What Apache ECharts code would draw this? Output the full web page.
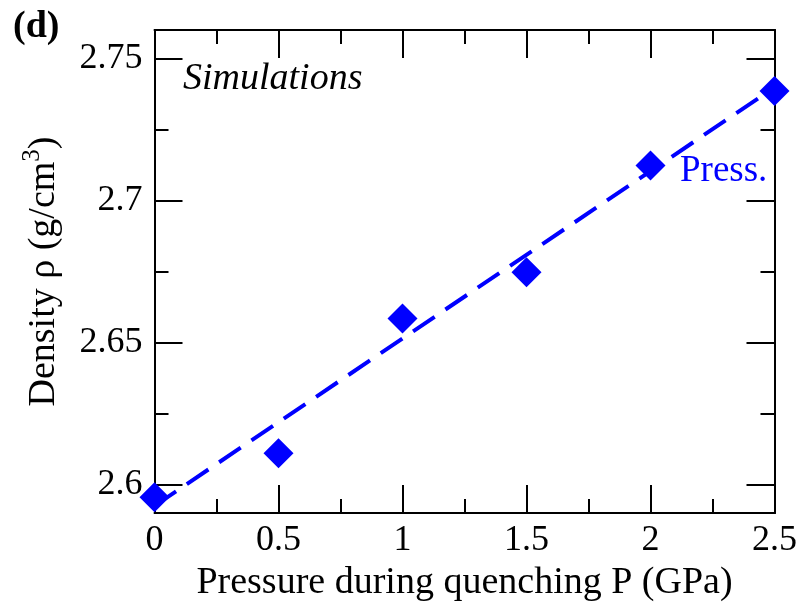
<!DOCTYPE html>
<html><head><meta charset="utf-8">
<script src="https://cdn.jsdelivr.net/npm/echarts@6/dist/echarts.min.js"></script>
<style>html,body{margin:0;padding:0;background:#fff}#c{width:800px;height:611px}</style>
</head><body><div id="c"></div>
<script>
const pressure = [0, 0.5, 1, 1.5, 2, 2.5];
const density = [2.5955, 2.611, 2.6585, 2.6747, 2.7123, 2.7385];
const fitX = [0, 2.5];
const fitY = [2.5925, 2.7398];
const yMajorTicks = [2.6, 2.65, 2.7, 2.75];
const yMinorTicks = [2.625, 2.675, 2.725];
const xMin = 0, xMax = 2.5, xStep = 0.5;
const yMin = 2.59, yMax = 2.76;

const SERIF = '"Liberation Serif", "DejaVu Serif", serif';
const BLUE = '#0000ff';

const chart = echarts.init(document.getElementById('c'), null, {renderer: 'canvas'});

function xAx(pos, showLabel, name) {
  return {
    type: 'value', position: pos, min: xMin, max: xMax, interval: xStep,
    axisLine: {show: true, onZero: false, lineStyle: {color: '#000', width: 2}},
    axisTick: {show: true, inside: true, length: 28, lineStyle: {color: '#000', width: 2}},
    minorTick: {show: true, splitNumber: 2, length: 14, lineStyle: {color: '#000', width: 2}},
    axisLabel: {show: showLabel, color: '#000', fontFamily: SERIF, fontSize: 36, margin: 10},
    splitLine: {show: false}, minorSplitLine: {show: false},
    name: name || '', nameLocation: 'middle', nameGap: 49,
    nameTextStyle: {color: '#000', fontFamily: SERIF, fontSize: 38}
  };
}
function yAx(pos, ticks, len, showLabel, name) {
  const a = {
    type: 'value', position: pos, min: yMin, max: yMax, offset: 0,
    axisLine: {show: true, onZero: false, lineStyle: {color: '#000', width: 2}},
    axisTick: {show: true, inside: true, length: len, customValues: ticks, lineStyle: {color: '#000', width: 2}},
    axisLabel: {show: showLabel, customValues: ticks, color: '#000', fontFamily: SERIF, fontSize: 36, margin: 12},
    splitLine: {show: false}
  };
  if (name) {
    a.name = name;
    a.nameLocation = 'middle';
    a.nameGap = 86;
    a.nameRotate = 90;
    a.nameTextStyle = {
      color: '#000', fontFamily: SERIF, fontSize: 38,
      rich: {
        t: {fontFamily: SERIF, fontSize: 38, color: '#000'},
        s: {fontFamily: SERIF, fontSize: 25, color: '#000', padding: [0, 0, 24, 0]}
      }
    };
  }
  return a;
}

chart.setOption({
  animation: false,
  backgroundColor: '#fff',
  grid: {left: 154.5, right: 22, top: 30, bottom: 98, containLabel: false},
  xAxis: [
    xAx('bottom', true, 'Pressure during quenching P (GPa)'),
    xAx('top', false)
  ],
  yAxis: [
    yAx('left', yMajorTicks, 28, true, '{t|Density ρ (g/cm}{s|3}{t|)}'),
    yAx('left', yMinorTicks, 14, false),
    yAx('right', yMajorTicks, 28, false),
    yAx('right', yMinorTicks, 14, false)
  ],
  series: [
    {
      type: 'line', xAxisIndex: 0, yAxisIndex: 0,
      data: fitX.map((x, i) => [x, fitY[i]]),
      showSymbol: false, symbol: 'none',
      lineStyle: {color: BLUE, width: 4, type: [26, 13]},
      z: 2, silent: true
    },
    {
      type: 'scatter', xAxisIndex: 0, yAxisIndex: 0,
      data: pressure.map((x, i) => [x, density[i]]),
      symbol: 'diamond', symbolSize: [30, 30],
      itemStyle: {color: BLUE, opacity: 1},
      z: 3
    }
  ],
  graphic: [
    {type: 'text', left: 13, top: 8, style: {text: '(d)', fontFamily: SERIF, fontWeight: 'bold', fontSize: 38, fill: '#000'}},
    {type: 'text', left: 183, top: 60, style: {text: 'Simulations', fontFamily: SERIF, fontStyle: 'italic', fontSize: 38, fill: '#000'}},
    {type: 'text', left: 680, top: 153, style: {text: 'Press.', fontFamily: SERIF, fontSize: 37, fill: BLUE}}
  ]
});
</script>
</body></html>
